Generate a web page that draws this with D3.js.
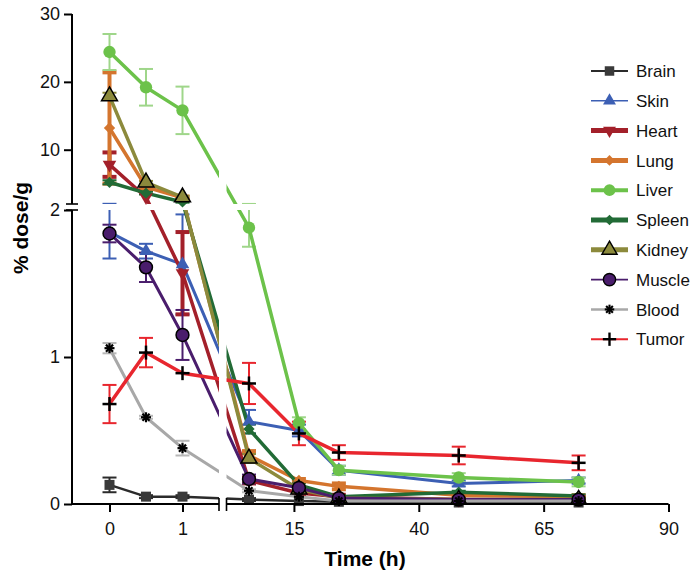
<!DOCTYPE html>
<html><head><meta charset="utf-8">
<script src="https://cdn.jsdelivr.net/npm/d3@7"></script>
<style>body{margin:0;background:#fff}text{font-family:"Liberation Sans",Arial,sans-serif}</style>
</head><body><svg id="c" width="700" height="579"></svg>
<script>
// ---- data ----
const times = [0, 0.5, 1, 6, 16, 24, 48, 72];
const organs = ["Brain","Skin","Heart","Lung","Liver","Spleen","Kidney","Muscle","Blood","Tumor"];
const brain     = [0.13, 0.05, 0.05, 0.03, 0.02, 0.015, 0.01, 0.01];
const brainErr  = [0.05, 0.01, 0.01, 0.01, 0, 0, 0, 0];
const skin      = [1.85, 1.72, 1.63, 0.56, 0.50, 0.23, 0.14, 0.16];
const skinErr   = [0.18, 0.05, 0.34, 0.08, 0.04, 0.03, 0.02, 0.02];
const heart     = [7.8, 3.0, 1.57, 0.16, 0.075, 0.05, 0.03, 0.035];
const heartErr  = [1.8, 0, 0.28, 0.02, 0.01, 0.01, 0.01, 0.01];
const lung      = [13.2, 4.5, 2.9, 0.33, 0.16, 0.12, 0.06, 0.05];
const lungErr   = [8.2, 0.3, 0.2, 0.03, 0.01, 0.02, 0.01, 0.01];
const liver     = [24.4, 19.2, 15.8, 1.88, 0.55, 0.23, 0.18, 0.15];
const liverErr  = [2.65, 2.7, 3.5, 0.13, 0.04, 0.03, 0.03, 0.03];
const spleen    = [5.2, 3.6, 2.3, 0.51, 0.13, 0.05, 0.08, 0.055];
const spleenErr = [0.3, 0.2, 0.1, 0.03, 0.01, 0.01, 0.01, 0.01];
const kidney    = [17.9, 5.2, 3.0, 0.31, 0.10, 0.04, 0.03, 0.03];
const kidneyErr = [0.5, 0.2, 0.2, 0.03, 0.01, 0.01, 0.01, 0.01];
const muscle    = [1.84, 1.61, 1.15, 0.17, 0.11, 0.04, 0.03, 0.03];
const muscleErr = [0.06, 0.10, 0.17, 0.03, 0.01, 0, 0, 0];
const blood     = [1.06, 0.59, 0.38, 0.09, 0.05, 0.02, 0.02, 0.02];
const bloodErr  = [0.035, 0.01, 0.05, 0.01, 0, 0, 0, 0];
const tumor     = [0.68, 1.03, 0.89, 0.82, 0.48, 0.35, 0.33, 0.28];
const tumorErr  = [0.13, 0.10, 0, 0.14, 0.08, 0.05, 0.06, 0.05];
const yTicksLow = [0, 1, 2];
const yTicksHigh = [10, 20, 30];
const xTicksA = [0, 1];
const xTicksB = [15, 40, 65, 90];

// ---- styles ----
const style = {
  Brain:  {c:"#2b2b2b", ec:"#2b2b2b", sym:"square", lw:2.5, llw:2, mc:"#3a3a3a"},
  Skin:   {c:"#3c5fb4", ec:"#3c5fb4", sym:"tri", lw:3, llw:1.5, mc:"#3c5fb4"},
  Heart:  {c:"#a3202a", ec:"#a3202a", sym:"itri", lw:3.5, llw:5, mc:"#a3202a", ew:4},
  Lung:   {c:"#d4752e", ec:"#d4752e", sym:"diamond", lw:3.5, llw:5, mc:"#d4752e", ew:4},
  Liver:  {c:"#6cc24a", ec:"#9fd68a", sym:"circle", lw:3.5, llw:4, mc:"#6cc24a"},
  Spleen: {c:"#226b36", ec:"#226b36", sym:"diamond", lw:3.5, llw:5, mc:"#226b36"},
  Kidney: {c:"#8c8a3c", ec:"#8c8a3c", sym:"ktri", lw:3.5, llw:5, mc:"#8c8a3c"},
  Muscle: {c:"#4a1d6c", ec:"#4a1d6c", sym:"mcircle", lw:3, llw:1.8, mc:"#4a1d6c"},
  Blood:  {c:"#a8a8a8", ec:"#b8b8b8", sym:"star", lw:3, llw:2.5, mc:"#000"},
  Tumor:  {c:"#e8262e", ec:"#e8262e", sym:"plus", lw:3.5, llw:2, mc:"#000"}
};
const vals = [brain, skin, heart, lung, liver, spleen, kidney, muscle, blood, tumor];
const errs = [brainErr, skinErr, heartErr, lungErr, liverErr, spleenErr, kidneyErr, muscleErr, bloodErr, tumorErr];
const series = organs.map((n,i)=>({name:n, v:vals[i], e:errs[i], s:style[n]}));

// ---- scales (broken axes) ----
const axisX = 72;
const yLow = d3.scaleLinear().domain([0, 2]).range([504, 210]);
const yHigh = d3.scaleLinear().domain([2, 30]).range([204, 14]);
const y = v => v <= 2 ? yLow(v) : yHigh(v);
const xA = d3.scaleLinear().domain([0, 1.5]).range([109.5, 219]);
const xB = d3.scaleLinear().domain([1.5, 90]).range([226.5, 668.5]);
const x = t => t <= 1.5 ? xA(t) : xB(t);

const svg = d3.select("#c");
const gErr = svg.append("g"), gLine = svg.append("g"), gMask = svg.append("g"),
      gMark = svg.append("g"), gAxis = svg.append("g"), gLeg = svg.append("g");

// error bars
series.forEach(s=>{
  const w = s.s.ew || 2;
  times.forEach((t,i)=>{
    const e = s.e[i]; if(!e) return;
    const cx = x(t), y1 = y(s.v[i]+e), y2 = y(Math.max(0,s.v[i]-e));
    gErr.append("line").attr("x1",cx).attr("x2",cx).attr("y1",y1).attr("y2",y2)
      .attr("stroke",s.s.ec).attr("stroke-width",w);
    [y1,y2].forEach(yy=>gErr.append("line").attr("x1",cx-7).attr("x2",cx+7)
      .attr("y1",yy).attr("y2",yy).attr("stroke",s.s.ec).attr("stroke-width",w));
  });
});
// lines
const line = d3.line().x(d=>x(d[0])).y(d=>y(d[1]));
series.forEach(s=>{
  gLine.append("path").attr("d", line(times.map((t,i)=>[t,s.v[i]])))
    .attr("fill","none").attr("stroke",s.s.c).attr("stroke-width",s.s.lw)
    .attr("stroke-linejoin","round");
});
// break masks
gMask.append("rect").attr("x",xA(1.5)).attr("y",8).attr("width",xB(1.5)-xA(1.5)).attr("height",494).attr("fill","#fff");
gMask.append("rect").attr("x",axisX+1).attr("y",yHigh(2)).attr("width",600).attr("height",yLow(2)-yHigh(2)).attr("fill","#fff");

// markers
function marker(g, sym, cx, cy, c, scale){
  scale = scale||1;
  const p = g.append("g").attr("transform",`translate(${cx},${cy}) scale(${scale})`);
  const S = d3.symbol();
  if(sym==="square") p.append("path").attr("d",S.type(d3.symbolSquare).size(100)()).attr("fill",c);
  else if(sym==="tri") p.append("path").attr("d",S.type(d3.symbolTriangle).size(80)()).attr("fill",c);
  else if(sym==="itri") p.append("path").attr("d",S.type(d3.symbolTriangle).size(80)()).attr("fill",c).attr("transform","rotate(180)");
  else if(sym==="diamond") p.append("path").attr("d",S.type(d3.symbolSquare).size(64)()).attr("fill",c).attr("transform","rotate(45)");
  else if(sym==="circle") p.append("path").attr("d",S.type(d3.symbolCircle).size(120)()).attr("fill",c);
  else if(sym==="mcircle") p.append("path").attr("d",S.type(d3.symbolCircle).size(130)()).attr("fill",c).attr("stroke","#000").attr("stroke-width",1.5);
  else if(sym==="ktri") p.append("path").attr("d",S.type(d3.symbolTriangle).size(110)()).attr("fill",c).attr("stroke","#000").attr("stroke-width",1.5);
  else if(sym==="star"){ [0,45,90,135].forEach(a=>p.append("line").attr("x1",-5).attr("x2",5).attr("y1",0).attr("y2",0)
      .attr("stroke","#000").attr("stroke-width",2.2).attr("transform",`rotate(${a})`)); }
  else if(sym==="plus"){ p.append("line").attr("x1",-7).attr("x2",7).attr("stroke","#000").attr("stroke-width",2.5);
      p.append("line").attr("y1",-7).attr("y2",7).attr("stroke","#000").attr("stroke-width",2.5); }
}
series.forEach(s=>{
  times.forEach((t,i)=>marker(gMark, s.s.sym, x(t), y(s.v[i]), s.s.mc));
});

// axes
const fs = "18px";
function styleAxis(g){
  g.selectAll("text").attr("font-size",fs).attr("fill","#111").attr("font-family",'"Liberation Sans",Arial,sans-serif');
  g.selectAll("line").attr("stroke","#000").attr("stroke-width",2);
  g.selectAll("path.domain").attr("stroke","#000").attr("stroke-width",2);
}
const fmt = d3.format("d");
const ayL = gAxis.append("g").attr("transform",`translate(${axisX},0)`)
  .call(d3.axisLeft(yLow).tickValues(yTicksLow).tickSize(8).tickPadding(4).tickSizeOuter(0).tickFormat(fmt));
styleAxis(ayL);
const ayH = gAxis.append("g").attr("transform",`translate(${axisX},0)`)
  .call(d3.axisLeft(yHigh).tickValues(yTicksHigh).tickSize(8).tickPadding(4).tickSizeOuter(0).tickFormat(fmt));
styleAxis(ayH);
ayH.select("path.domain").attr("d",`M0,${yHigh(2)}V${yHigh(30)}`);
ayL.select("path.domain").attr("d",`M0,${yLow(0)+1}V${yLow(2)}`);
// y break marks
[yHigh(2), yLow(2)].forEach(yy=>gAxis.append("line").attr("x1",axisX-6).attr("x2",axisX+6)
  .attr("y1",yy).attr("y2",yy).attr("stroke","#000").attr("stroke-width",1.6));

const axA = gAxis.append("g").attr("transform",`translate(0,${yLow(0)})`)
  .call(d3.axisBottom(xA).tickValues(xTicksA).tickSize(8).tickPadding(10).tickSizeOuter(0).tickFormat(fmt));
styleAxis(axA);
axA.select("path.domain").attr("d",`M${axisX-1},0H${xA(1.5)}`);
const axB = gAxis.append("g").attr("transform",`translate(0,${yLow(0)})`)
  .call(d3.axisBottom(xB).tickValues(xTicksB).tickSize(8).tickPadding(10).tickSizeOuter(0).tickFormat(fmt));
styleAxis(axB);
axB.select("path.domain").attr("d",`M${xB(1.5)},0H${xB(90)}`);
[xA(1.5), xB(1.5)].forEach(xx=>gAxis.append("line").attr("x1",xx).attr("x2",xx)
  .attr("y1",yLow(0)-6).attr("y2",yLow(0)+7).attr("stroke","#000").attr("stroke-width",1.6));

// titles
svg.append("text").attr("x",365).attr("y",566).attr("text-anchor","middle")
  .attr("font-size","21px").attr("font-weight","bold").text("Time (h)");
svg.append("text").attr("transform","translate(28,228) rotate(-90)").attr("text-anchor","middle")
  .attr("font-size","21px").attr("font-weight","bold").text("% dose/g");

// legend
series.forEach((s,i)=>{
  const ly = 71 + i*29.8;
  gLeg.append("line").attr("x1",591).attr("x2",628).attr("y1",ly).attr("y2",ly)
    .attr("stroke",s.s.c).attr("stroke-width",s.s.llw);
  marker(gLeg, s.s.sym, 609.5, ly, s.s.mc, 0.95);
  gLeg.append("text").attr("x",636).attr("y",ly).attr("dy","0.36em")
    .attr("font-size","17px").attr("fill","#111").text(s.name);
});
</script></body></html>
